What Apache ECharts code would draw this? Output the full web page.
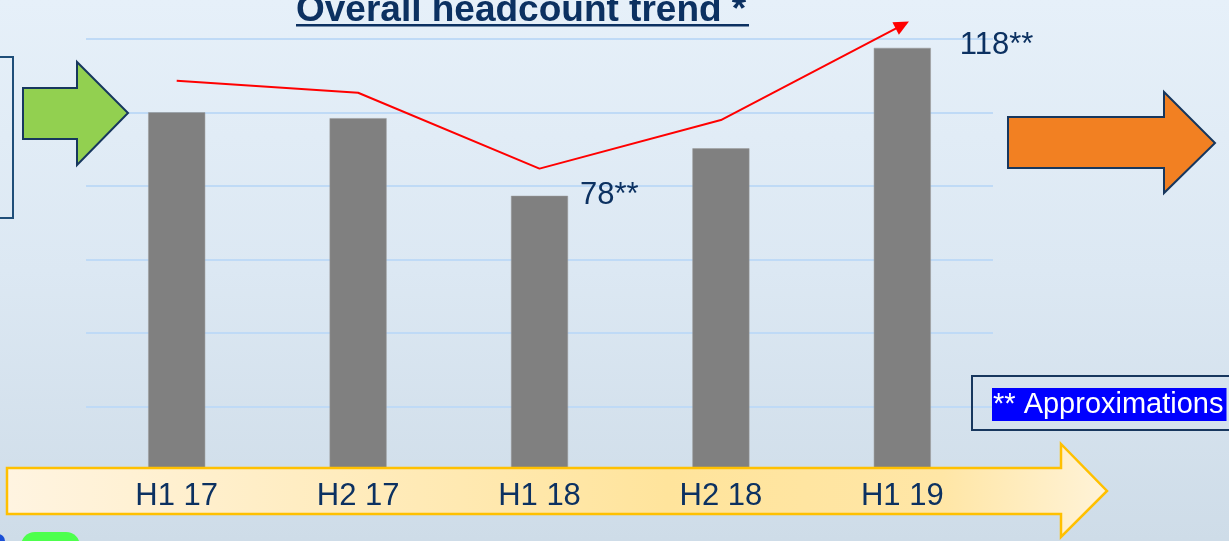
<!DOCTYPE html>
<html>
<head>
<meta charset="utf-8">
<script src="https://cdn.jsdelivr.net/npm/echarts@6/dist/echarts.min.js"></script>
<style>
html,body{margin:0;padding:0;background:#dfe9f3;}
#chart{width:1229px;height:541px;}
</style>
</head>
<body>
<div id="chart"></div>
<script>
// ---- data ----
var categories = ['H1 17', 'H2 17', 'H1 18', 'H2 18', 'H1 19'];
var headcountBars = [100, 98.4, 77.3, 90.2, 117.5];
var trendLine = [108.6, 105.3, 84.7, 97.9, 123.7];
var barLabels = ['', '', '78**', '', '118**'];
var yTicks = [0, 20, 40, 60, 80, 100, 120];

var NAVY = '#0c3161';
var FONT = '"Liberation Sans", Arial, sans-serif';

var chart = echarts.init(document.getElementById('chart'), null, {renderer: 'canvas'});

var labelOffsets = {2: [12, 0], 4: [29, -2]};
var barData = headcountBars.map(function (v, i) {
  var item = {value: v};
  if (barLabels[i]) {
    item.label = {
      show: true,
      formatter: barLabels[i],
      position: ['100%', 0],
      offset: labelOffsets[i] || [10, 0],
      align: 'left',
      verticalAlign: 'middle',
      fontSize: 31,
      fontFamily: FONT,
      color: NAVY
    };
  }
  return item;
});

var lineData = trendLine.map(function (v, i) {
  if (i === trendLine.length - 1) {
    return {value: v, symbol: 'triangle', symbolSize: [14, 15], symbolRotate: -62.4,
      itemStyle: {color: '#ff0000'}};
  }
  return {value: v, symbol: 'none'};
});

var option = {
  animation: false,
  graphic: [
    {type: 'rect', z: -100, silent: true,
      shape: {x: 0, y: 0, width: 1229, height: 541},
      style: {fill: {type: 'linear', x: 0, y: 0, x2: 0, y2: 1,
        colorStops: [{offset: 0, color: '#e6f0f9'}, {offset: 0.5, color: '#dce8f3'}, {offset: 1, color: '#cedce8'}]}}},
    // title
    {type: 'text', z: 100, left: 296, top: -8,
      style: {text: 'Overall headcount trend *', fontSize: 37, fontWeight: 'bold', fontFamily: FONT, fill: NAVY}},
    {type: 'line', z: 100, shape: {x1: 296, y1: 25.3, x2: 749, y2: 25.3}, style: {stroke: NAVY, lineWidth: 2.5}},
    // left box
    {type: 'rect', z: 50, shape: {x: -10, y: 57, width: 23, height: 161}, style: {fill: 'none', stroke: '#1f4e79', lineWidth: 2}},
    // green arrow
    {type: 'polygon', z: 50,
      shape: {points: [[23, 88], [77, 88], [77, 62], [128, 113], [77, 165], [77, 139], [23, 139]]},
      style: {fill: '#92d050', stroke: '#17375e', lineWidth: 2}},
    // orange arrow
    {type: 'polygon', z: 50,
      shape: {points: [[1008, 117], [1164, 117], [1164, 92], [1215, 143], [1164, 193], [1164, 168], [1008, 168]]},
      style: {fill: '#f28022', stroke: '#17375e', lineWidth: 2}},
    // bottom banner arrow
    {type: 'polygon', z: 100,
      shape: {points: [[7, 468], [1061, 468], [1061, 444], [1107, 491], [1061, 537], [1061, 514], [7, 514]]},
      style: {fill: {type: 'linear', x: 0, y: 0, x2: 1, y2: 0,
        colorStops: [{offset: 0, color: '#fff4e1'}, {offset: 0.6, color: '#ffe49c'}, {offset: 0.85, color: '#ffe6a6'}, {offset: 1, color: '#fff3d8'}]},
        stroke: '#ffc000', lineWidth: 2.5}},
    // approximations box
    {type: 'rect', z: 50, shape: {x: 972, y: 376, width: 280, height: 54}, style: {fill: 'none', stroke: '#17375e', lineWidth: 2}},
    {type: 'text', z: 60, left: 992, top: 388,
      style: {text: '** Approximations', fontSize: 29, fontFamily: FONT, fill: '#ffffff',
        backgroundColor: '#0000ff', lineHeight: 33, padding: [0, 3, 0, 1]}},
    // bottom-left decorations
    {type: 'rect', z: 50, shape: {x: 21, y: 532, width: 59, height: 30, r: 14}, style: {fill: '#4dff4d'}},
    {type: 'circle', z: 50, shape: {cx: -2, cy: 541, r: 7}, style: {fill: '#1a4fd6'}}
  ],
  grid: {left: 86, right: 236, top: 38.7, bottom: 60.7, containLabel: false},
  xAxis: {
    type: 'category', data: categories, z: 200,
    axisLine: {show: false}, axisTick: {show: false},
    axisLabel: {fontSize: 31, fontFamily: FONT, color: NAVY, margin: 16, verticalAlign: 'middle'}
  },
  yAxis: {
    type: 'value', min: yTicks[0], max: yTicks[yTicks.length - 1], interval: yTicks[1] - yTicks[0],
    axisLine: {show: false}, axisTick: {show: false}, axisLabel: {show: false},
    splitLine: {show: true, lineStyle: {color: '#bfdaf6', width: 2}}
  },
  series: [
    {type: 'bar', data: barData, barWidth: 57, z: 2,
      itemStyle: {color: '#808080', borderColor: '#9a9a9a', borderWidth: 0.5}},
    {type: 'line', data: lineData, z: 3, clip: false, symbol: 'none',
      lineStyle: {color: '#ff0000', width: 2}, itemStyle: {color: '#ff0000'}}
  ]
};
chart.setOption(option);
</script>
</body>
</html>
